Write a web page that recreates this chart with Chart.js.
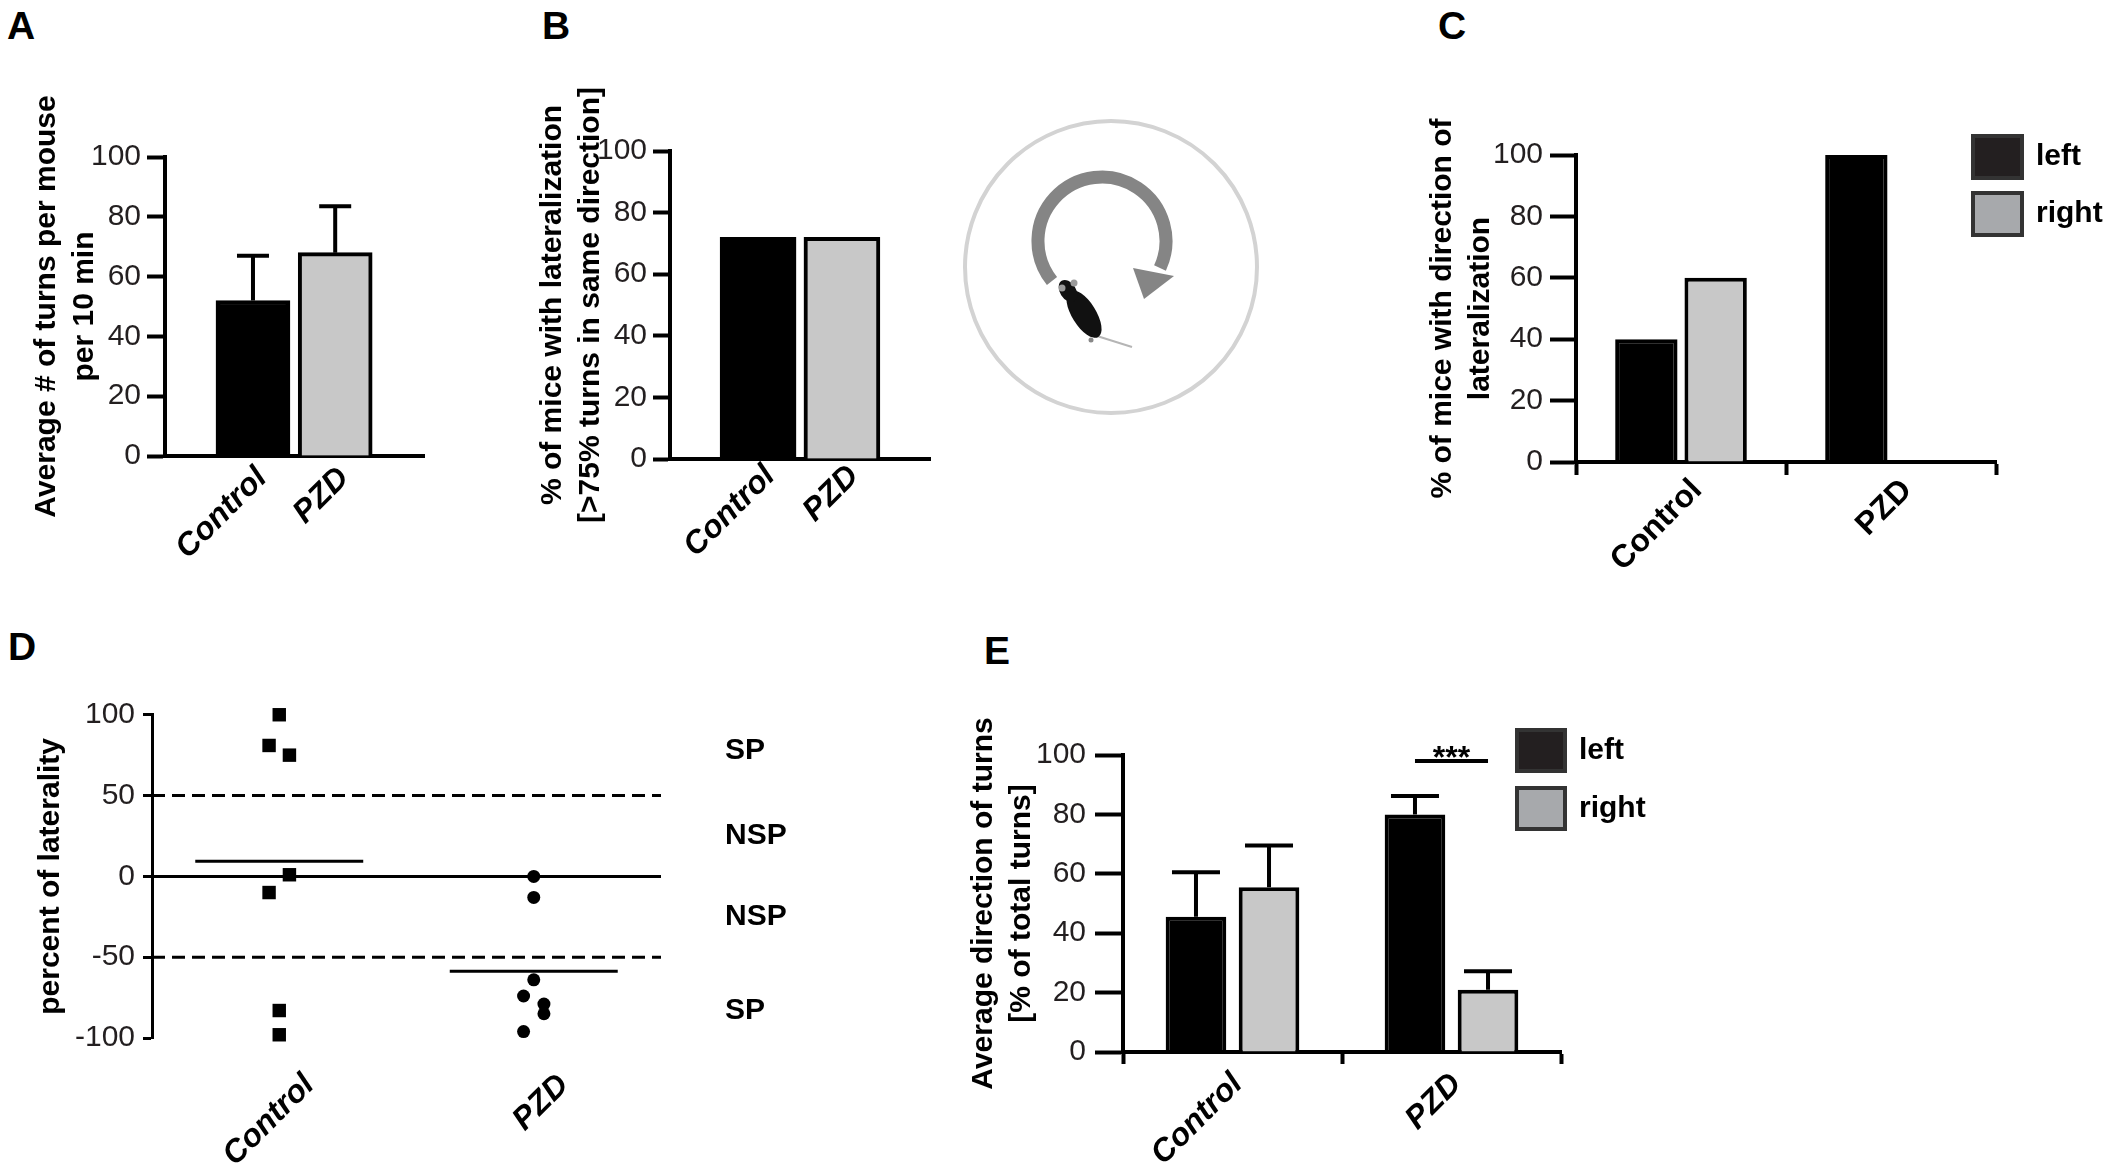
<!DOCTYPE html>
<html>
<head>
<meta charset="utf-8">
<script src="https://cdn.jsdelivr.net/npm/chart.js@4.4.1/dist/chart.umd.min.js"></script>
<style>
  body { margin: 0; background: #fff; }
  #page { position: relative; width: 2109px; height: 1163px; overflow: hidden; background: #fff;
          font-family: "Liberation Sans", Arial, sans-serif; }
  canvas { position: absolute; }
  .tag { position: absolute; font-weight: bold; font-size: 39px; line-height: 1; color: #000; }
  svg { position: absolute; left: 0; top: 0; }
</style>
</head>
<body>
<div id="page">
  <div class="tag" style="left:7px;top:6px">A</div>
  <div class="tag" style="left:542px;top:6px">B</div>
  <div class="tag" style="left:1438px;top:6px">C</div>
  <div class="tag" style="left:8px;top:627px">D</div>
  <div class="tag" style="left:984px;top:631px">E</div>

  <!-- mouse in the open field, panel B -->
  <svg width="2109" height="600">
    <circle cx="1111" cy="267" r="146" fill="none" stroke="#d3d3d3" stroke-width="4"/>
    <path d="M 1052 281 A 64 64 0 1 1 1160 268" fill="none" stroke="#858585" stroke-width="13"/>
    <polygon points="1133,268 1174,276 1144,299" fill="#858585"/>
    <line x1="1097" y1="336" x2="1132" y2="347" stroke="#b5b5b5" stroke-width="2"/>
    <ellipse cx="1084" cy="314" rx="12" ry="27" fill="#111" transform="rotate(-32 1084 314)"/>
    <ellipse cx="1068" cy="291" rx="8" ry="12" fill="#111" transform="rotate(-32 1068 291)"/>
    <circle cx="1062" cy="288" r="3.5" fill="#9a9a9a"/>
    <circle cx="1074" cy="283" r="3.5" fill="#9a9a9a"/>
    <circle cx="1091" cy="340" r="2.5" fill="#888"/>
  </svg>

  <canvas id="chartA" width="440" height="560" style="left:0px;top:60px"></canvas>
  <canvas id="chartB" width="430" height="560" style="left:520px;top:60px"></canvas>
  <canvas id="chartC" width="709" height="560" style="left:1400px;top:60px"></canvas>
  <canvas id="chartD" width="800" height="523" style="left:0px;top:640px"></canvas>
  <canvas id="chartE" width="800" height="523" style="left:920px;top:640px"></canvas>
</div>

<script>
var groups = ['Control', 'PZD'];

// A: turns per mouse per 10 min
var turnsMean = [52, 68];
var turnsSem = [15, 15.5];

// B: % mice with lateralization
var lateralPct = [72, 72];

// C: direction of lateralization
var dirLeft = [40, 100];
var dirRight = [60, 0];

// D: percent of laterality per mouse
var lateralityControl = [100, 81, 75, 1, -10, -83, -98];
var lateralityPzd = [0, -13, -64, -74, -79, -85, -96];
var jitterControl = [0, -0.04, 0.04, 0.04, -0.04, 0, 0];
var jitterPzd = [0, 0, 0, -0.04, 0.04, 0.04, -0.04];
var thresholds = [50, -50];
var zoneValues = [78, 25, -25, -83];
var zoneLabels = ['SP', 'NSP', 'NSP', 'SP'];

// E: average direction of turns
var turnsLeft = [45.5, 80];
var turnsLeftSem = [15, 6.2];
var turnsRight = [55.5, 21];
var turnsRightSem = [14, 6.2];
var sigLevel = 98;

var FONT = '"Liberation Sans", Arial, sans-serif';
var tickFont = {family: FONT, size: 30};
var boldFont = {family: FONT, size: 30, weight: 'bold', lineHeight: 1.25};
var labelFont = {family: FONT, size: 32, weight: 'bold', lineHeight: 1.25};
var italicFont = {family: FONT, size: 32, weight: 'bold', style: 'italic', lineHeight: 1.25};

Chart.defaults.responsive = false;
Chart.defaults.animation = false;
Chart.defaults.events = [];
Chart.defaults.font.family = FONT;
Chart.defaults.plugins.legend.display = false;
Chart.defaults.plugins.tooltip.enabled = false;

function mean(arr) {
    var s = 0;
    for (var i = 0; i < arr.length; i++) s += arr[i];
    return s / arr.length;
}

// error bars (upper half only) on top of each bar
var errorBars = {
    id: 'errorBars',
    afterDatasetsDraw: function (chart, args, o) {
        var ctx = chart.ctx, y = chart.scales.y;
        ctx.save();
        ctx.strokeStyle = '#000';
        ctx.lineWidth = o.width;
        chart.data.datasets.forEach(function (ds, di) {
            if (!ds.errors) return;
            chart.getDatasetMeta(di).data.forEach(function (bar, i) {
                var d = ds.data[i];
                var v = typeof d === 'object' ? d.y : d;
                var yTop = y.getPixelForValue(v + ds.errors[i]);
                ctx.beginPath();
                ctx.moveTo(bar.x, bar.y);
                ctx.lineTo(bar.x, yTop);
                ctx.moveTo(bar.x - o.cap / 2, yTop);
                ctx.lineTo(bar.x + o.cap / 2, yTop);
                ctx.stroke();
            });
        });
        ctx.restore();
    }
};

// square legend boxes stacked at the upper right
var boxLegend = {
    id: 'boxLegend',
    afterDraw: function (chart, args, o) {
        var ctx = chart.ctx;
        ctx.save();
        chart.data.datasets.forEach(function (ds, i) {
            var top = o.y + i * o.step;
            ctx.fillStyle = o.colors[i];
            ctx.fillRect(o.x, top, o.w, o.h);
            ctx.lineWidth = 4;
            ctx.strokeStyle = o.border;
            ctx.strokeRect(o.x + 2, top + 2, o.w - 4, o.h - 4);
            ctx.fillStyle = '#000';
            ctx.font = 'bold 30px ' + FONT;
            ctx.textBaseline = 'middle';
            ctx.fillText(ds.label, o.x + o.w + o.gap, top + o.h / 2);
        });
        ctx.restore();
    }
};

// significance bar between the two PZD bars
var sigBar = {
    id: 'sigBar',
    afterDatasetsDraw: function (chart, args, o) {
        var ctx = chart.ctx;
        var a = chart.getDatasetMeta(0).data[o.index];
        var b = chart.getDatasetMeta(1).data[o.index];
        var y = chart.scales.y.getPixelForValue(o.level);
        ctx.save();
        ctx.strokeStyle = '#000';
        ctx.lineWidth = 4;
        ctx.beginPath();
        ctx.moveTo(a.x, y);
        ctx.lineTo(b.x, y);
        ctx.stroke();
        ctx.fillStyle = '#000';
        ctx.font = 'bold 32px ' + FONT;
        ctx.textAlign = 'center';
        ctx.textBaseline = 'alphabetic';
        ctx.fillText(o.text, (a.x + b.x) / 2, y + 7);
        ctx.restore();
    }
};

function yAxis(width, title, titlePad, tickLen, tickPad) {
    return {
        min: 0, max: 100,
        afterFit: function (s) { s.width = width; },
        border: {color: '#000', width: 4},
        grid: {drawOnChartArea: false, tickLength: tickLen, tickWidth: 4, tickColor: '#000', color: '#000'},
        ticks: {stepSize: 20, font: tickFont, color: '#231f20', padding: tickPad},
        title: {display: true, text: title, font: boldFont, color: '#000', padding: {top: titlePad, bottom: 0}}
    };
}

// linear x axis with one labelled tick per group
function xLinear(height, min, max, font, border, pad, shift) {
    return {
        type: 'linear', min: min, max: max, offset: false, bounds: 'data', grace: 0,
        afterFit: function (s) { s.height = height; },
        afterBuildTicks: function (s) {
            s.ticks = groups.map(function (g, i) { return {value: i + 1}; });
        },
        border: {display: border, color: '#000', width: 4},
        grid: {display: false, offset: false},
        ticks: {
            autoSkip: false, minRotation: 45, maxRotation: 45, font: font, color: '#000',
            padding: pad, labelOffset: shift,
            callback: function (v, i) { return groups[i]; }
        }
    };
}

function xCategory(height, tickLen, font, pad, shift) {
    return {
        type: 'category',
        afterFit: function (s) { s.height = height; },
        border: {color: '#000', width: 4},
        grid: {offset: true, drawOnChartArea: false, tickLength: tickLen, tickWidth: 4, tickColor: '#000', color: '#000'},
        ticks: {autoSkip: false, minRotation: 45, maxRotation: 45, font: font, color: '#000',
                padding: pad, labelOffset: shift}
    };
}

// one point per value, placed at the group's position (plus jitter)
function groupPoints(values, g, jitter) {
    return values.map(function (v, i) { return {x: g + 1 + (jitter ? jitter[i] : 0), y: v}; });
}

// one bar per group
function barPoints(values) {
    return values.map(function (v, i) { return {x: i + 1, y: v}; });
}

// ---- A ----
new Chart(document.getElementById('chartA'), {
    type: 'bar',
    data: {
        datasets: [{
            data: barPoints(turnsMean),
            errors: turnsSem,
            backgroundColor: ['#000', '#c8c8c8'],
            borderColor: '#000', borderWidth: 4, barThickness: 74
        }]
    },
    options: {
        layout: {padding: {top: 97, right: 16, left: 0, bottom: 0}},
        scales: {
            x: xLinear(164, -0.07, 3.08, italicFont, true, -5, 9),
            y: yAxis(165, ['Average # of turns per mouse', 'per 10 min'], 28, 18, 6)
        },
        plugins: {errorBars: {cap: 32, width: 4}}
    },
    plugins: [errorBars]
});

// ---- B ----
new Chart(document.getElementById('chartB'), {
    type: 'bar',
    data: {
        datasets: [{
            data: barPoints(lateralPct),
            backgroundColor: ['#000', '#c8c8c8'],
            borderColor: '#000', borderWidth: 4, barThickness: 76
        }]
    },
    options: {
        layout: {padding: {top: 91, right: 20, left: 0, bottom: 0}},
        scales: {
            x: xLinear(161, -0.05, 3.05, italicFont, true, -10, 12),
            y: yAxis(150, ['% of mice with lateralization', '[>75% turns in same direction]'], 14, 17, 6)
        }
    }
});

// ---- C ----
new Chart(document.getElementById('chartC'), {
    type: 'bar',
    data: {
        labels: groups,
        datasets: [
            {label: 'left', data: dirLeft, backgroundColor: '#000', borderColor: '#000', borderWidth: 4,
             categoryPercentage: 0.66, barPercentage: 0.9},
            {label: 'right', data: dirRight, backgroundColor: '#c8c8c8', borderColor: '#000', borderWidth: 4,
             categoryPercentage: 0.66, barPercentage: 0.9}
        ]
    },
    options: {
        layout: {padding: {top: 95, right: 113, left: 0, bottom: 0}},
        scales: {
            x: xCategory(158, 13, labelFont, -4, 16),
            y: yAxis(176, ['% of mice with direction of', 'lateralization'], 24, 26, 7)
        },
        plugins: {boxLegend: {x: 571, y: 74, w: 53, h: 46, step: 57, gap: 12,
                              colors: ['#231f20', '#a7a9ac'], border: '#333'}}
    },
    plugins: [boxLegend]
});

// ---- D ----
var dDatasets = [];
thresholds.forEach(function (t) {
    dDatasets.push({data: [{x: 0.5, y: t}, {x: 2.5, y: t}], showLine: true, borderColor: '#000',
                    borderWidth: 3, borderDash: [13, 7], pointRadius: 0});
});
dDatasets.push({data: [{x: 0.5, y: 0}, {x: 2.5, y: 0}], showLine: true, borderColor: '#000',
                borderWidth: 3, pointRadius: 0});
[lateralityControl, lateralityPzd].forEach(function (arr, g) {
    var m = mean(arr);
    dDatasets.push({data: [{x: g + 1 - 0.33, y: m}, {x: g + 1 + 0.33, y: m}], showLine: true,
                    borderColor: '#000', borderWidth: 3, pointRadius: 0});
});
dDatasets.push({data: groupPoints(lateralityControl, 0, jitterControl), pointStyle: 'rect', pointRadius: 9.5,
                backgroundColor: '#000', borderWidth: 0, clip: false});
dDatasets.push({data: groupPoints(lateralityPzd, 1, jitterPzd), pointStyle: 'circle', pointRadius: 6.5,
                backgroundColor: '#000', borderWidth: 0, clip: false});

new Chart(document.getElementById('chartD'), {
    type: 'scatter',
    data: {datasets: dDatasets},
    options: {
        layout: {padding: {top: 71, right: 0, left: 0, bottom: 0}},
        scales: {
            x: xLinear(125, 0.5, 2.5, italicFont, false, 20, 30),
            y: {
                min: -100, max: 100,
                afterFit: function (s) { s.width = 152; },
                border: {color: '#000', width: 3},
                grid: {drawOnChartArea: false, tickLength: 9, tickWidth: 3, tickColor: '#000', color: '#000'},
                ticks: {stepSize: 50, font: tickFont, color: '#231f20', padding: 8},
                title: {display: true, text: 'percent of laterality', font: boldFont, color: '#000',
                        padding: {top: 32, bottom: 0}}
            },
            y2: {
                position: 'right', min: -100, max: 100,
                afterFit: function (s) { s.width = 139; },
                afterBuildTicks: function (s) {
                    s.ticks = zoneValues.map(function (v) { return {value: v}; });
                },
                border: {display: false},
                grid: {display: false},
                ticks: {autoSkip: false, font: boldFont, color: '#000', padding: 56,
                        callback: function (v, i) { return zoneLabels[i]; }}
            }
        }
    }
});

// ---- E ----
new Chart(document.getElementById('chartE'), {
    type: 'bar',
    data: {
        labels: groups,
        datasets: [
            {label: 'left', data: turnsLeft, errors: turnsLeftSem, backgroundColor: '#000', borderColor: '#000',
             borderWidth: 4, categoryPercentage: 0.667, barPercentage: 0.83},
            {label: 'right', data: turnsRight, errors: turnsRightSem, backgroundColor: '#c8c8c8', borderColor: '#000',
             borderWidth: 4, categoryPercentage: 0.667, barPercentage: 0.83}
        ]
    },
    options: {
        layout: {padding: {top: 115, right: 159, left: 0, bottom: 0}},
        scales: {
            x: xCategory(111, 12, italicFont, 1, 5),
            y: yAxis(203, ['Average direction of turns', '[% of total turns]'], 45, 28, 9)
        },
        plugins: {
            errorBars: {cap: 48, width: 4},
            sigBar: {index: 1, level: sigLevel, text: '***'},
            boxLegend: {x: 595, y: 88, w: 52, h: 45, step: 58, gap: 12,
                        colors: ['#231f20', '#a7a9ac'], border: '#333'}
        }
    },
    plugins: [errorBars, sigBar, boxLegend]
});
</script>
</body>
</html>
